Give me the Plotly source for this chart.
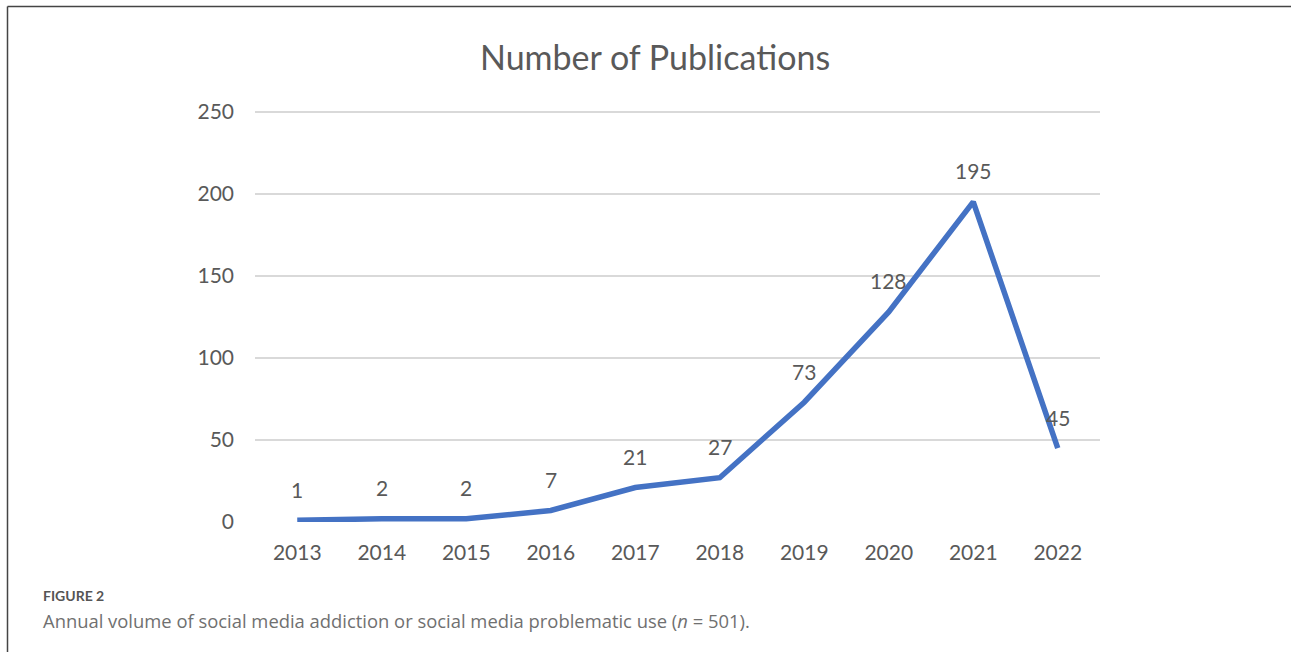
import plotly.graph_objects as go

years = ["2013", "2014", "2015", "2016", "2017", "2018", "2019", "2020", "2021", "2022"]
publications = [1, 2, 2, 7, 21, 27, 73, 128, 195, 45]
y_ticks = [0, 50, 100, 150, 200, 250]

W, H = 1291, 652
Y_MAX = 251
L, R, B = 255, W - 1100, H - 522
T = int(round(522 - Y_MAX * 410 / 250))
PW, PH = W - L - R, H - T - B

def px(x):
    return (x - L) / PW

def py(y):
    return (H - B - y) / PH

GRAY = "#595959"
FONT = "Lato"

fig = go.Figure()
fig.add_trace(go.Scatter(
    x=years, y=publications, mode="lines",
    line=dict(color="#4472C4", width=5.5),
    hoverinfo="x+y", showlegend=False,
))

for i, v in enumerate(publications):
    fig.add_annotation(x=i, y=v, text=str(v), showarrow=False, yshift=31,
                       font=dict(family=FONT, size=21, color=GRAY))

fig.add_annotation(xref="paper", yref="paper", x=px(655), y=py(57),
                   text="Number of Publications", showarrow=False,
                   xanchor="center", yanchor="middle",
                   font=dict(family=FONT, size=34, color=GRAY))

fig.add_annotation(xref="paper", yref="paper", x=px(41), y=py(595),
                   text="<b>FIGURE 2</b>", showarrow=False,
                   xanchor="left", yanchor="middle",
                   font=dict(family="Lato", size=14, color="#555555"))
fig.add_annotation(xref="paper", yref="paper", x=px(41), y=py(620),
                   text="Annual volume of social media addiction or social media problematic use (<i>n</i> = 501).",
                   showarrow=False, xanchor="left", yanchor="middle",
                   font=dict(family="Open Sans", size=18.4, color="#707070"))

# frame lines (left and top)
fig.add_shape(type="line", xref="paper", yref="paper",
              x0=px(7.5), x1=px(7.5), y0=py(6.5), y1=py(H + 2),
              line=dict(color="#444444", width=1.5))
fig.add_shape(type="line", xref="paper", yref="paper",
              x0=px(7.5), x1=px(W + 2), y0=py(6.5), y1=py(6.5),
              line=dict(color="#444444", width=1.5))

fig.update_layout(
    width=W, height=H,
    margin=dict(l=L, r=R, t=T, b=B, autoexpand=False),
    paper_bgcolor="white", plot_bgcolor="white",
    xaxis=dict(type="category", range=[-0.5, 9.5], showgrid=False,
               showline=False, zeroline=False, ticks="",
               tickfont=dict(family=FONT, size=21, color=GRAY),
               ticklabelstandoff=16, fixedrange=True),
    yaxis=dict(range=[0, Y_MAX], tickvals=y_ticks, showgrid=True,
               gridcolor="#d9d9d9", gridwidth=1.5, zeroline=False,
               showline=False, ticks="",
               tickfont=dict(family=FONT, size=21, color=GRAY),
               ticklabelstandoff=20, fixedrange=True),
)

fig.write_html("out.html", config={"displayModeBar": False},
               post_script="document.body.style.margin='0px';document.body.style.overflow='hidden';")
